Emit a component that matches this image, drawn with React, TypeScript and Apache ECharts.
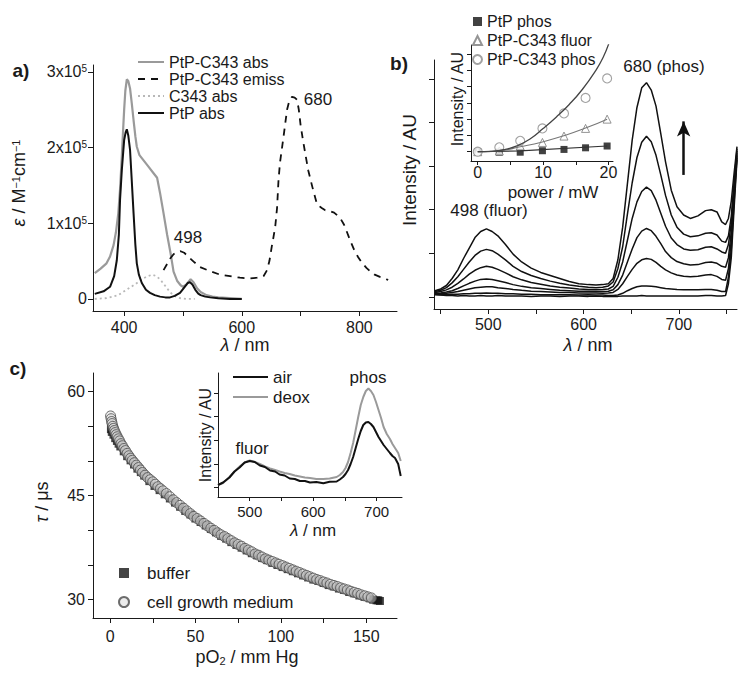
import React, { useEffect, useRef } from 'react';
import * as echarts from 'echarts';

// ---------- Panel a : absorption / emission spectra ----------
const A_PTPC343_WL = [350, 360, 370, 376, 382, 386, 390, 393, 396, 398, 400, 402, 404.5, 407, 410, 413, 416, 419, 421.5, 426, 433, 441, 450, 456, 461, 467, 473, 479, 484, 490, 496, 500, 506, 513, 518, 524, 530, 540, 550, 560, 580, 600];
const A_PTPC343_ABS = [0.34, 0.40, 0.47, 0.56, 0.71, 0.88, 1.13, 1.45, 1.88, 2.2, 2.5, 2.75, 2.9, 2.88, 2.78, 2.58, 2.36, 2.15, 2.01, 1.9, 1.83, 1.75, 1.66, 1.60, 1.40, 1.13, 0.85, 0.6, 0.36, 0.24, 0.18, 0.16, 0.19, 0.26, 0.22, 0.14, 0.09, 0.05, 0.03, 0.02, 0.01, 0.0];
const A_EM_WL = [467, 473, 478, 484, 490, 496, 502, 510, 520, 529, 545, 563, 580, 597, 612, 626, 637, 643, 647, 651, 654, 657, 660, 662.5, 665, 668, 672, 677, 681, 685.5, 690, 694, 697, 700, 704, 708, 713, 720, 728, 736, 742, 750, 757, 763, 768, 774, 779.5, 785, 791, 798, 805, 812, 819, 826, 835, 849];
const A_EM = [0.38, 0.46, 0.53, 0.59, 0.62, 0.63, 0.61, 0.55, 0.48, 0.42, 0.37, 0.32, 0.30, 0.28, 0.27, 0.28, 0.30, 0.38, 0.5, 0.69, 0.82, 0.96, 1.2, 1.57, 1.8, 1.97, 2.2, 2.5, 2.62, 2.67, 2.66, 2.63, 2.5, 2.3, 2.1, 1.92, 1.7, 1.48, 1.25, 1.2, 1.17, 1.16, 1.14, 1.1, 1.06, 0.98, 0.87, 0.76, 0.65, 0.55, 0.47, 0.41, 0.36, 0.32, 0.29, 0.25];
const A_C343_WL = [350, 370, 390, 400, 410, 420, 430, 440, 448, 455, 462, 470, 478, 485, 495, 505, 520];
const A_C343_ABS = [0.0, 0.01, 0.05, 0.1, 0.15, 0.2, 0.26, 0.3, 0.32, 0.3, 0.25, 0.17, 0.09, 0.04, 0.01, 0.0, 0.0];
const A_PTP_WL = [350, 365, 376, 383, 387.5, 391, 393, 396, 400, 402.5, 404.5, 407, 410, 413, 416, 419, 421.5, 425, 430, 437, 444, 452, 461, 470, 478, 486, 495, 500, 504, 508, 512, 516, 521, 526, 530, 538, 546, 560, 580, 600];
const A_PTP_ABS = [0.066, 0.1, 0.16, 0.3, 0.51, 0.85, 1.31, 1.7, 2.1, 2.2, 2.24, 2.16, 1.97, 1.55, 1.13, 0.72, 0.47, 0.32, 0.21, 0.12, 0.08, 0.05, 0.03, 0.02, 0.02, 0.04, 0.08, 0.13, 0.17, 0.21, 0.22, 0.19, 0.12, 0.07, 0.05, 0.03, 0.02, 0.01, 0.0, 0.0];
const A_X_TICKS = [400, 500, 600, 700, 800];
const A_X_LABELS = [400, 600, 800];
const A_Y_TICKS = [0, 1, 2, 3];

// ---------- Panel b : power-dependent emission ----------
const B_WL = [444, 450, 456, 462, 468, 474, 480, 486, 492, 498, 504, 510, 518, 526, 535, 545, 555, 565, 575, 585, 595, 605, 613, 620, 626, 631, 636, 641, 646, 651, 656, 661, 666, 671, 676, 681, 686, 692, 698, 705, 712, 720, 728, 734, 740, 745, 749, 752, 755, 758, 761];
const B_P6 = [0.14, 0.18, 0.26, 0.42, 0.62, 0.88, 1.12, 1.36, 1.50, 1.56, 1.50, 1.40, 1.20, 0.98, 0.80, 0.66, 0.56, 0.49, 0.42, 0.35, 0.30, 0.28, 0.27, 0.28, 0.30, 0.42, 0.85, 1.60, 2.60, 3.60, 4.35, 4.80, 4.92, 4.75, 4.38, 3.75, 3.10, 2.45, 2.07, 1.88, 1.80, 1.86, 1.98, 2.00, 1.95, 1.72, 1.66, 1.80, 2.20, 2.85, 3.45];
const B_P5 = [0.12, 0.15, 0.21, 0.32, 0.46, 0.63, 0.80, 0.95, 1.05, 1.09, 1.06, 0.98, 0.85, 0.70, 0.58, 0.49, 0.42, 0.36, 0.31, 0.27, 0.24, 0.22, 0.21, 0.22, 0.25, 0.34, 0.65, 1.15, 1.90, 2.62, 3.20, 3.55, 3.69, 3.56, 3.25, 2.80, 2.33, 1.88, 1.60, 1.44, 1.38, 1.40, 1.46, 1.47, 1.42, 1.28, 1.25, 1.40, 1.85, 2.65, 3.40];
const B_P4 = [0.10, 0.12, 0.16, 0.22, 0.31, 0.41, 0.52, 0.61, 0.67, 0.70, 0.68, 0.63, 0.55, 0.46, 0.39, 0.33, 0.29, 0.25, 0.22, 0.20, 0.18, 0.17, 0.16, 0.17, 0.18, 0.24, 0.45, 0.80, 1.30, 1.80, 2.18, 2.42, 2.52, 2.44, 2.22, 1.92, 1.62, 1.35, 1.20, 1.10, 1.07, 1.08, 1.14, 1.15, 1.10, 1.03, 1.00, 1.20, 1.70, 2.55, 3.35];
const B_P3 = [0.08, 0.09, 0.11, 0.14, 0.19, 0.25, 0.31, 0.36, 0.40, 0.41, 0.40, 0.37, 0.33, 0.28, 0.24, 0.21, 0.19, 0.17, 0.15, 0.14, 0.13, 0.13, 0.12, 0.12, 0.13, 0.16, 0.28, 0.50, 0.80, 1.10, 1.36, 1.51, 1.57, 1.52, 1.39, 1.22, 1.04, 0.90, 0.81, 0.76, 0.73, 0.74, 0.79, 0.80, 0.77, 0.70, 0.68, 0.90, 1.50, 2.45, 3.30];
const B_P2 = [0.07, 0.07, 0.08, 0.10, 0.12, 0.15, 0.18, 0.21, 0.22, 0.23, 0.23, 0.21, 0.19, 0.17, 0.15, 0.13, 0.12, 0.11, 0.10, 0.10, 0.09, 0.09, 0.09, 0.08, 0.09, 0.10, 0.17, 0.30, 0.47, 0.63, 0.77, 0.85, 0.88, 0.86, 0.79, 0.70, 0.62, 0.55, 0.50, 0.47, 0.46, 0.47, 0.50, 0.51, 0.47, 0.40, 0.38, 0.65, 1.30, 2.35, 3.25];
const B_P1 = [0.06, 0.05, 0.05, 0.06, 0.06, 0.07, 0.07, 0.08, 0.08, 0.09, 0.08, 0.08, 0.07, 0.07, 0.06, 0.06, 0.05, 0.05, 0.05, 0.05, 0.04, 0.05, 0.04, 0.04, 0.03, 0.03, 0.04, 0.08, 0.14, 0.19, 0.23, 0.25, 0.25, 0.24, 0.23, 0.21, 0.19, 0.18, 0.17, 0.16, 0.16, 0.16, 0.17, 0.17, 0.15, 0.12, 0.12, 0.45, 1.10, 2.20, 3.20];
const B_P0 = [0.05, 0.04, 0.03, 0.03, 0.02, 0.03, 0.02, 0.02, 0.03, 0.02, 0.02, 0.03, 0.02, 0.02, 0.02, 0.01, 0.02, 0.02, 0.01, 0.02, 0.02, 0.01, 0.02, 0.01, 0.01, 0.01, 0.01, 0.02, 0.02, 0.02, 0.02, 0.03, 0.02, 0.02, 0.02, 0.02, 0.02, 0.02, 0.02, 0.02, 0.02, 0.02, 0.03, 0.03, 0.02, 0.02, 0.03, 0.30, 0.90, 2.05, 3.15];
const B_X_TICKS = [450, 500, 550, 600, 650, 700, 750];
const B_X_LABELS = [500, 600, 700];
const B_Y_TICKS = [0, 1, 2, 3, 4, 5];
const B_ARROW_WL = 705;
const B_ARROW_FROM = 2.8;
const B_ARROW_TO = 4.03;

// ---------- Panel b inset : intensity vs power ----------
const BI_POWER = [0, 3.3, 6.5, 9.9, 13.2, 16.5, 19.8];
const BI_PTP_PHOS = [0, -0.03, -0.03, 0.06, 0.14, 0.24, 0.35];
const BI_C343_FLUOR = [0, 0.05, 0.35, 0.57, 0.96, 1.43, 2.0];
const BI_C343_PHOS = [0, 0.27, 0.67, 1.43, 2.35, 3.3, 4.5];
const BI_FIT_PHOS_X = [0, 2, 4, 6, 8, 10, 12, 14, 16, 18, 19.2, 20.2];
const BI_FIT_PHOS_Y = [0, 0.02, 0.12, 0.36, 0.78, 1.42, 2.12, 2.9, 3.82, 4.95, 5.8, 6.8];
const BI_FIT_FLUOR_X = [0, 3.3, 6.5, 9.9, 13.2, 16.5, 19.8];
const BI_FIT_FLUOR_Y = [0, 0.06, 0.3, 0.6, 0.98, 1.45, 2.0];
const BI_FIT_PTP_X = [0, 6.5, 19.8];
const BI_FIT_PTP_Y = [0, 0.05, 0.35];
const BI_X_TICKS = [0, 5, 10, 15, 20];
const BI_X_LABELS = [0, 10, 20];
const BI_Y_TICKS = [0, 1, 2, 3, 4, 5, 6];

// ---------- Panel c : lifetime vs pO2 ----------
const C_MED_PO2 = [0.3, 0.6, 0.9, 1.2, 1.6, 2.0, 2.5, 3.0, 3.6, 4.2,
  4.9, 5.6, 6.4, 7.2, 8.1, 9.0, 10, 11, 12, 13,
  14.2, 15.4, 16.6, 17.8, 19, 20.5, 22, 23.5, 25, 26.5,
  28, 29.5, 31, 33, 35, 37, 39, 41, 43, 45,
  47, 49, 51, 53, 55, 57, 59, 61, 63, 65,
  67, 69, 71, 73, 75, 77, 79, 81, 83, 85,
  87, 89, 91, 93, 95, 97, 99, 101, 103, 105,
  107, 109, 111, 113, 115, 117, 119, 121, 123, 125,
  127, 129, 131, 133, 135, 137, 139, 141, 143, 145,
  147, 149, 151, 153];
const C_MED_TAU = [56.5, 56.1, 55.7, 55.4, 55.0, 54.7, 54.4, 54.1, 53.8, 53.5,
  53.2, 52.9, 52.5, 52.2, 51.8, 51.5, 51.1, 50.75, 50.4, 50.1,
  49.75, 49.4, 49.05, 48.7, 48.35, 47.95, 47.6, 47.3, 47.0, 46.65,
  46.3, 46.0, 45.7, 45.3, 44.85, 44.4, 44.0, 43.6, 43.2, 42.8,
  42.4, 42.0, 41.7, 41.35, 41.0, 40.65, 40.3, 40.0, 39.65, 39.35,
  39.1, 38.8, 38.5, 38.2, 37.95, 37.7, 37.4, 37.15, 36.9, 36.6,
  36.4, 36.15, 35.9, 35.7, 35.5, 35.3, 35.1, 34.9, 34.7, 34.5,
  34.3, 34.1, 33.9, 33.7, 33.5, 33.3, 33.1, 32.9, 32.75, 32.55,
  32.4, 32.2, 32.05, 31.9, 31.7, 31.55, 31.4, 31.2, 31.05, 30.9,
  30.7, 30.55, 30.4, 30.25];
const C_BUF_PO2 = [0.5, 1, 2, 3, 4, 5, 6, 8, 10, 12,
  14, 16, 18, 20, 23, 26, 29, 32, 35, 38,
  41, 44, 47, 50, 53, 56, 59, 62, 65, 68,
  71, 74, 77, 80, 83, 86, 89, 92, 95, 98,
  101, 104, 107, 110, 113, 116, 119, 122, 125, 128,
  131, 134, 137, 140, 143, 146, 149, 152, 154, 156,
  157, 158];
const C_BUF_TAU = [54.6, 54.2, 53.8, 53.3, 52.9, 52.5, 52.1, 51.4, 50.7, 50.1,
  49.5, 48.9, 48.4, 47.9, 47.1, 46.4, 45.8, 45.2, 44.6, 44.0,
  43.4, 42.8, 42.3, 41.7, 41.2, 40.7, 40.2, 39.7, 39.2, 38.8,
  38.3, 37.9, 37.5, 37.1, 36.7, 36.4, 36.0, 35.7, 35.3, 35.0,
  34.7, 34.4, 34.1, 33.8, 33.5, 33.2, 32.9, 32.7, 32.4, 32.1,
  31.9, 31.6, 31.4, 31.1, 30.9, 30.6, 30.4, 30.2, 30.0, 29.9,
  29.9, 29.8];
const C_X_TICKS = [0, 25, 50, 75, 100, 125, 150];
const C_X_LABELS = [0, 50, 100, 150];
const C_Y_TICKS = [30, 35, 40, 45, 50, 55, 60];
const C_Y_LABELS = [30, 45, 60];

// ---------- Panel c inset : air vs deoxygenated ----------
const CI_WL = [450, 458, 468, 476, 484, 492, 500, 508, 516, 524, 532, 540, 547, 555, 563, 571, 579, 587, 595, 605, 616, 626, 637, 642, 647, 651, 655, 659, 663, 667, 671, 675, 679, 683, 687, 691, 695, 699, 703, 707, 711, 716, 721, 725, 729, 734, 738];
const CI_AIR = [1.2, 1.45, 1.95, 2.55, 2.95, 3.45, 3.6, 3.5, 3.15, 3.0, 2.65, 2.55, 2.25, 2.15, 1.85, 1.8, 1.6, 1.6, 1.45, 1.5, 1.38, 1.52, 1.55, 1.75, 2.0, 2.3, 2.7, 3.3, 4.0, 4.9, 5.8, 6.6, 7.2, 7.45, 7.5, 7.3, 7.0, 6.5, 6.0, 5.6, 5.2, 4.8, 4.4, 4.1, 3.9, 3.3, 2.1];
const CI_DEOX = [1.2, 1.4, 2.0, 2.55, 3.05, 3.45, 3.65, 3.5, 3.3, 3.05, 2.85, 2.7, 2.55, 2.4, 2.3, 2.15, 2.05, 1.95, 1.9, 1.8, 1.8, 1.85, 2.0, 2.2, 2.5, 2.9, 3.5, 4.4, 5.4, 6.7, 8.0, 9.2, 10.0, 10.6, 10.85, 10.6, 10.2, 9.5, 8.7, 7.9, 7.0, 6.3, 5.8, 5.3, 4.9, 4.4, 3.6];
const CI_X_TICKS = [500, 550, 600, 650, 700];
const CI_X_LABELS = [500, 600, 700];
const CI_Y_TICKS = [1.0, 3.3, 5.7, 8.1, 10.4];

const FONT = '"Liberation Sans", Arial, Helvetica, sans-serif';
const INK = '#1a1a1a';

const zip = (xs: number[], ys: number[]) => xs.map((x, i) => [x, ys[i]]);

function valAxis(gridIndex: number, min: number, max: number, ticks: number[], labels: number[], o: any = {}) {
  return {
    type: 'value',
    gridIndex,
    min,
    max,
    axisLine: { show: true, onZero: false, lineStyle: { color: INK, width: 1 } },
    axisTick: { show: true, customValues: ticks, length: o.tickLen ?? 5, lineStyle: { color: INK, width: 1 } },
    axisLabel: {
      show: labels.length > 0,
      customValues: labels,
      fontSize: o.fontSize ?? 16,
      fontFamily: FONT,
      color: INK,
      margin: o.margin ?? 7,
      formatter: o.formatter,
      rich: o.rich,
    },
    splitLine: { show: false },
  };
}

function txt(x: number, y: number, text: string, size: number, o: any = {}) {
  const base = { fontSize: size, fontFamily: FONT, fill: INK };
  return {
    type: 'text',
    x,
    y,
    rotation: o.rot || 0,
    silent: true,
    z: 100,
    style: {
      text,
      fontSize: size,
      fontFamily: FONT,
      fontWeight: o.bold ? 'bold' : 'normal',
      fill: INK,
      align: o.align || 'center',
      verticalAlign: 'middle',
      rich: {
        i: { ...base, fontStyle: 'italic' },
        s: { ...base, fontSize: Math.round(size * 0.62), verticalAlign: 'top' },
        d: { ...base, fontSize: Math.round(size * 0.62), verticalAlign: 'bottom' },
      },
    },
  };
}

function line(name: string, xi: number, xs: number[], ys: number[], color: string, width: number, type: any = 'solid', extra: any = {}) {
  return {
    type: 'line',
    name,
    xAxisIndex: xi,
    yAxisIndex: xi,
    data: zip(xs, ys),
    symbol: 'none',
    showSymbol: false,
    lineStyle: { color, width, type },
    itemStyle: { color },
    emphasis: { disabled: true },
    ...extra,
  };
}

function buildOption() {
  const bCurves = [B_P0, B_P1, B_P2, B_P3, B_P4, B_P5, B_P6];
  return {
    animation: false,
    backgroundColor: '#ffffff',
    grid: [
      { left: 93, top: 65, width: 304, height: 246 },
      { left: 434, top: 60, width: 303, height: 249 },
      { left: 471, top: 45, width: 142, height: 116 },
      { left: 93, top: 373, width: 304, height: 245 },
      { left: 218, top: 373, width: 184, height: 124 },
    ],
    xAxis: [
      valAxis(0, 347, 864, A_X_TICKS, A_X_LABELS, { margin: 8 }),
      valAxis(1, 443, 761, B_X_TICKS, B_X_LABELS, { margin: 7 }),
      valAxis(2, -1.03, 20.7, BI_X_TICKS, BI_X_LABELS, { fontSize: 16, margin: 3, tickLen: 4 }),
      valAxis(3, -10, 168, C_X_TICKS, C_X_LABELS, { margin: 10 }),
      valAxis(4, 450, 740, CI_X_TICKS, CI_X_LABELS, { fontSize: 15, margin: 7, tickLen: 4 }),
    ],
    yAxis: [
      valAxis(0, -0.16, 3.09, A_Y_TICKS, A_Y_TICKS, {
        margin: 6,
        formatter: (v: number) => (v === 0 ? '0' : `${v}x10{s|5}`),
        rich: { s: { fontSize: 10, fontFamily: FONT, color: INK, verticalAlign: 'top' } },
      }),
      valAxis(1, -0.28, 5.44, B_Y_TICKS, []),
      valAxis(2, -0.57, 6.55, BI_Y_TICKS, [], { tickLen: 4 }),
      valAxis(3, 27.35, 62.7, C_Y_TICKS, C_Y_LABELS, { margin: 8 }),
      valAxis(4, 0, 12.4, CI_Y_TICKS, [], { tickLen: 4 }),
    ],
    legend: [
      {
        data: ['PtP-C343 abs', 'PtP-C343 emiss', 'C343 abs', 'PtP abs'],
        left: 137, top: 53.5, orient: 'vertical', itemWidth: 26, itemHeight: 12, itemGap: 0, padding: 0,
        selectedMode: false,
        itemStyle: { opacity: 0 },
        textStyle: { fontSize: 16, fontFamily: FONT, color: INK, lineHeight: 17 },
      },
      {
        data: ['PtP phos', 'PtP-C343 fluor', 'PtP-C343 phos'],
        left: 472, top: 12, orient: 'vertical', itemWidth: 9, itemHeight: 9, itemGap: 0, padding: 0,
        selectedMode: false,
        textStyle: { fontSize: 16, fontFamily: FONT, color: INK, lineHeight: 19 },
      },
      {
        data: ['buffer', 'cell growth medium'],
        left: 118, top: 564, orient: 'vertical', itemWidth: 10, itemHeight: 10, itemGap: 11, padding: 0,
        selectedMode: false,
        textStyle: { fontSize: 17, fontFamily: FONT, color: INK, lineHeight: 18, padding: [0, 0, 0, 13] },
      },
      {
        data: ['air', 'deox'],
        left: 232, top: 367, orient: 'vertical', itemWidth: 35, itemHeight: 14, itemGap: 0, padding: 0,
        selectedMode: false,
        itemStyle: { opacity: 0 },
        textStyle: { fontSize: 17, fontFamily: FONT, color: INK, lineHeight: 20 },
      },
    ],
    series: [
      // panel a
      line('C343 abs', 0, A_C343_WL, A_C343_ABS, '#b8b8b8', 1.8, [2, 3]),
      line('PtP-C343 abs', 0, A_PTPC343_WL, A_PTPC343_ABS, '#9a9a9a', 2.2),
      line('PtP abs', 0, A_PTP_WL, A_PTP_ABS, '#111111', 2),
      line('PtP-C343 emiss', 0, A_EM_WL, A_EM, '#111111', 1.8, [7, 6]),
      // panel b
      ...bCurves.map((c, k) =>
        line(`b${k}`, 1, B_WL, c, '#111111', 1.5, 'solid',
          k === 6
            ? {
                markLine: {
                  silent: true,
                  symbol: ['none', 'arrow'],
                  symbolSize: [10, 15],
                  label: { show: false },
                  lineStyle: { color: '#111', width: 2.5, type: 'solid' },
                  data: [[{ coord: [B_ARROW_WL, B_ARROW_FROM] }, { coord: [B_ARROW_WL, B_ARROW_TO] }]],
                },
              }
            : {}
        )
      ),
      // panel b inset
      line('fitPtP', 2, BI_FIT_PTP_X, BI_FIT_PTP_Y, '#333333', 1.1),
      line('fitFluor', 2, BI_FIT_FLUOR_X, BI_FIT_FLUOR_Y, '#777777', 1.1, 'solid', { smooth: true }),
      line('fitPhos', 2, BI_FIT_PHOS_X, BI_FIT_PHOS_Y, '#444444', 1.3, 'solid', { smooth: true }),
      {
        type: 'scatter', name: 'PtP phos', xAxisIndex: 2, yAxisIndex: 2,
        data: zip(BI_POWER, BI_PTP_PHOS), symbol: 'rect', symbolSize: 7,
        itemStyle: { color: '#111' }, emphasis: { disabled: true },
      },
      {
        type: 'scatter', name: 'PtP-C343 fluor', xAxisIndex: 2, yAxisIndex: 2,
        data: zip(BI_POWER, BI_C343_FLUOR), symbol: 'triangle', symbolSize: 8,
        itemStyle: { color: '#ffffff', borderColor: '#7a7a7a', borderWidth: 1 }, emphasis: { disabled: true },
      },
      {
        type: 'scatter', name: 'PtP-C343 phos', xAxisIndex: 2, yAxisIndex: 2,
        data: zip(BI_POWER, BI_C343_PHOS), symbol: 'circle', symbolSize: 9,
        itemStyle: { color: '#ffffff', borderColor: '#8a8a8a', borderWidth: 1.1 }, emphasis: { disabled: true },
      },
      // panel c
      {
        type: 'scatter', name: 'buffer', xAxisIndex: 3, yAxisIndex: 3,
        data: zip(C_BUF_PO2, C_BUF_TAU), symbol: 'rect', symbolSize: 8,
        itemStyle: { color: '#151515' }, emphasis: { disabled: true },
      },
      {
        type: 'scatter', name: 'cell growth medium', xAxisIndex: 3, yAxisIndex: 3,
        data: zip(C_MED_PO2, C_MED_TAU), symbol: 'circle', symbolSize: 10,
        itemStyle: { color: 'rgba(215,215,215,0.6)', borderColor: '#4a4a4a', borderWidth: 1 }, emphasis: { disabled: true },
      },
      // panel c inset
      line('deox', 4, CI_WL, CI_DEOX, '#9a9a9a', 2),
      line('air', 4, CI_WL, CI_AIR, '#111111', 2),
    ],
    graphic: [
      txt(21, 70, 'a)', 19, { bold: true }),
      txt(399, 63, 'b)', 19, { bold: true }),
      txt(18, 368, 'c)', 19, { bold: true }),
      txt(19, 183, '{i|ε} / M{s|−1}cm{s|−1}', 18, { rot: Math.PI / 2 }),
      txt(245, 345, '{i|λ} / nm', 18),
      txt(188, 237, '498', 17),
      txt(318, 99, '680', 17),
      txt(409, 170, 'Intensity / AU', 19, { rot: Math.PI / 2 }),
      txt(588, 345, '{i|λ} / nm', 18),
      txt(489, 210, '498 (fluor)', 17),
      txt(664, 66, '680 (phos)', 17),
      txt(457, 99, 'Intensity / AU', 16, { rot: Math.PI / 2 }),
      txt(553, 192, 'power / mW', 17),
      txt(42, 502, '{i|τ} / μs', 18, { rot: Math.PI / 2 }),
      txt(247, 657, 'pO{d|2} / mm Hg', 18),
      txt(205, 435, 'Intensity / AU', 16, { rot: Math.PI / 2 }),
      txt(313, 530, '{i|λ} / nm', 17),
      txt(252, 448, 'fluor', 17),
      txt(368, 377, 'phos', 17),
    ],
  };
}

export default function App() {
  const ref = useRef<HTMLDivElement>(null);
  useEffect(() => {
    if (!ref.current) return;
    const chart = echarts.init(ref.current, null, { renderer: 'svg' });
    chart.setOption(buildOption() as any);
    return () => chart.dispose();
  }, []);
  return (
    <div
      ref={ref}
      style={{ position: 'absolute', left: 0, top: 0, width: 749, height: 680, background: '#fff' }}
    />
  );
}
